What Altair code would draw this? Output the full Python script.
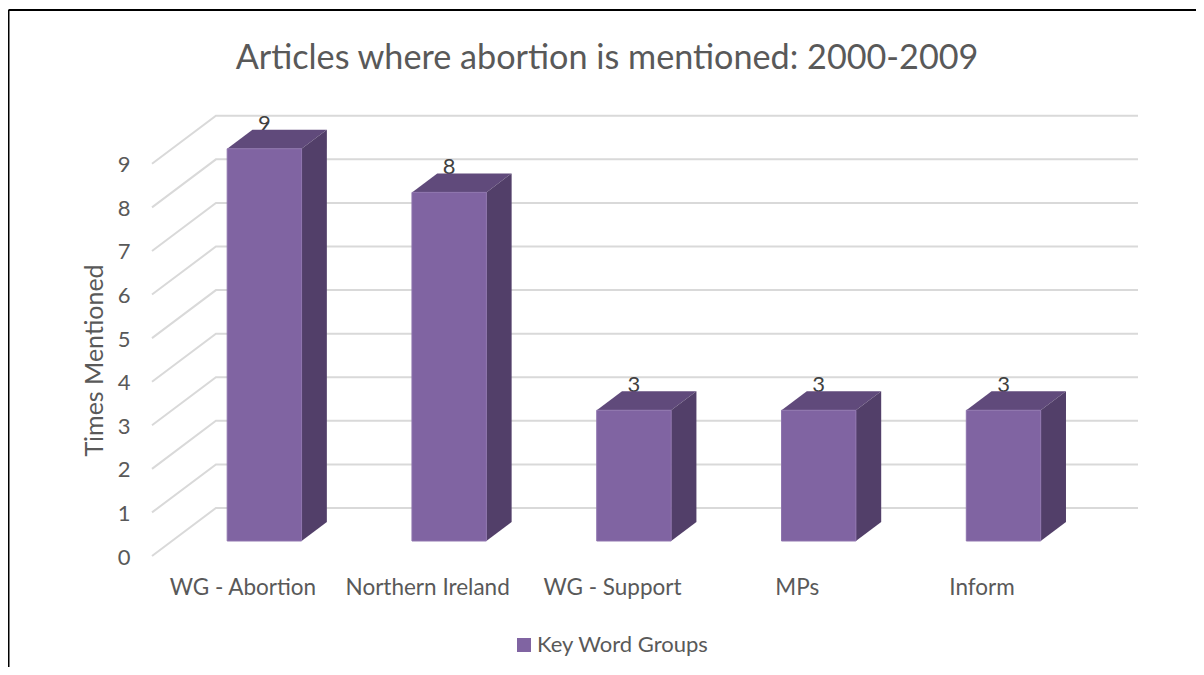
import json
import altair as alt
import pandas as pd

# ---- values ----
categories = ["WG - Abortion", "Northern Ireland", "WG - Support", "MPs", "Inform"]
values = [9, 8, 3, 3, 3]
y_ticks = [0, 1, 2, 3, 4, 5, 6, 7, 8, 9]
series_name = "Key Word Groups"
title_text = "Articles where abortion is mentioned: 2000-2009"
y_title = "Times Mentioned"

# ---- oblique projection of the 3D chart, in axis units ----
X_PER_DEPTH = 0.346
Y_PER_DEPTH = 1.102
FRONT, BACK = 0.3125, 0.708
HALF_BAR = 0.2013
WALL_END = 5.336
FONT = "Lato"


def px(x, d):
    return x + X_PER_DEPTH * d


def py(v, d):
    return v + Y_PER_DEPTH * d


xs = alt.Scale(domain=[0, WALL_END], nice=False, zero=False)
ys = alt.Scale(domain=[0, 10.12], nice=False, zero=False)

grid_rows, front_rows, side_rows, top_rows, label_rows = [], [], [], [], []
for t in y_ticks:
    grid_rows += [
        {"t": t, "o": 0, "x": px(0, 0), "y": py(t, 0)},
        {"t": t, "o": 1, "x": px(0, 1), "y": py(t, 1)},
        {"t": t, "o": 2, "x": WALL_END, "y": py(t, 1)},
    ]

for i, (c, v) in enumerate(zip(categories, values)):
    l, r = i + 0.5 - HALF_BAR, i + 0.5 + HALF_BAR
    front_rows.append({"c": c, "s": series_name, "x": px(l, FRONT), "x2": px(r, FRONT),
                       "y": py(v, FRONT), "y2": py(0, FRONT)})
    for d in (FRONT, BACK):
        side_rows.append({"c": c, "x": px(r, d), "y": py(v, d), "y2": py(0, d)})
    yf, yb = py(v, FRONT), py(v, BACK)
    top_rows += [
        {"c": c, "x": px(l, FRONT), "y": yf, "y2": yf},
        {"c": c, "x": px(l, BACK), "y": yb, "y2": yf},
        {"c": c, "x": px(r, FRONT), "y": yb, "y2": yf},
        {"c": c, "x": px(r, BACK), "y": yb, "y2": yb},
    ]
    label_rows.append({"c": c, "v": v, "x": px(i + 0.5, FRONT), "y": yb})

x_axis = alt.Axis(
    values=[i + 0.5 for i in range(len(categories))],
    labelExpr=json.dumps(categories) + "[floor(datum.value)]",
    title=None, domain=False, ticks=False, grid=False,
    labelFont=FONT, labelFontSize=22.5, labelColor="#595959",
    labelPadding=20, labelOffset=-2, labelFlush=False, labelOverlap=False,
)
y_axis = alt.Axis(
    values=y_ticks, title=y_title, domain=False, ticks=False, grid=False,
    labelFont=FONT, labelFontSize=22, labelColor="#595959", labelPadding=22, labelOffset=1,
    titleFont=FONT, titleFontSize=25, titleFontWeight="normal", titleColor="#595959",
    titleX=-45, titleY=245,
)
X = alt.X("x:Q", scale=xs, axis=x_axis)
Y = alt.Y("y:Q", scale=ys, axis=y_axis)

grid = alt.Chart(pd.DataFrame(grid_rows)).mark_line(color="#D9D9D9", strokeWidth=2).encode(
    x=X, y=Y, detail="t:N", order="o:Q",
)

labels = alt.Chart(pd.DataFrame(label_rows)).mark_text(
    font=FONT, fontSize=22, color="#404040", baseline="alphabetic", dy=1
).encode(x=X, y=Y, text="v:Q")

top = alt.Chart(pd.DataFrame(top_rows)).mark_area(color="#604A7B", interpolate="linear").encode(
    x=X, y=Y, y2="y2:Q", detail="c:N",
)

side = alt.Chart(pd.DataFrame(side_rows)).mark_area(color="#523F69", interpolate="linear").encode(
    x=X, y=Y, y2="y2:Q", detail="c:N",
)

front = alt.Chart(pd.DataFrame(front_rows)).mark_rect(stroke="#8E74AD", strokeWidth=1).encode(
    x=X, x2="x2:Q", y=Y, y2="y2:Q",
    color=alt.Color(
        "s:N",
        scale=alt.Scale(range=["#8064A2"]),
        legend=alt.Legend(
            title=None, orient="none", legendX=361, legendY=519, labelLimit=400,
            symbolType="square", symbolSize=196, symbolStrokeWidth=0,
            labelFont=FONT, labelFontSize=22, labelColor="#595959", labelOffset=2,
        ),
    ),
)

frame_left = alt.Chart().mark_rule(color="#000000", strokeWidth=2).encode(
    x=alt.value(-143.5), y=alt.value(-105), y2=alt.value(552))
frame_top = alt.Chart().mark_rule(color="#000000", strokeWidth=2).encode(
    x=alt.value(-143.5), x2=alt.value(1044), y=alt.value(-105))

chart = alt.layer(
    grid, labels, top, side, front, frame_left, frame_top
).properties(
    width=986,
    height=441,
    padding={"left": 144, "top": 107, "right": 58, "bottom": 111},
    autosize=alt.AutoSizeParams(type="none"),
    title=alt.TitleParams(
        title_text, font=FONT, fontSize=34.2, fontWeight="normal", color="#595959",
        anchor="middle", dx=-38, dy=114, offset=47,
    ),
).configure_view(stroke=None)

chart.save("out.html", embed_options={"renderer": "svg", "actions": False})
